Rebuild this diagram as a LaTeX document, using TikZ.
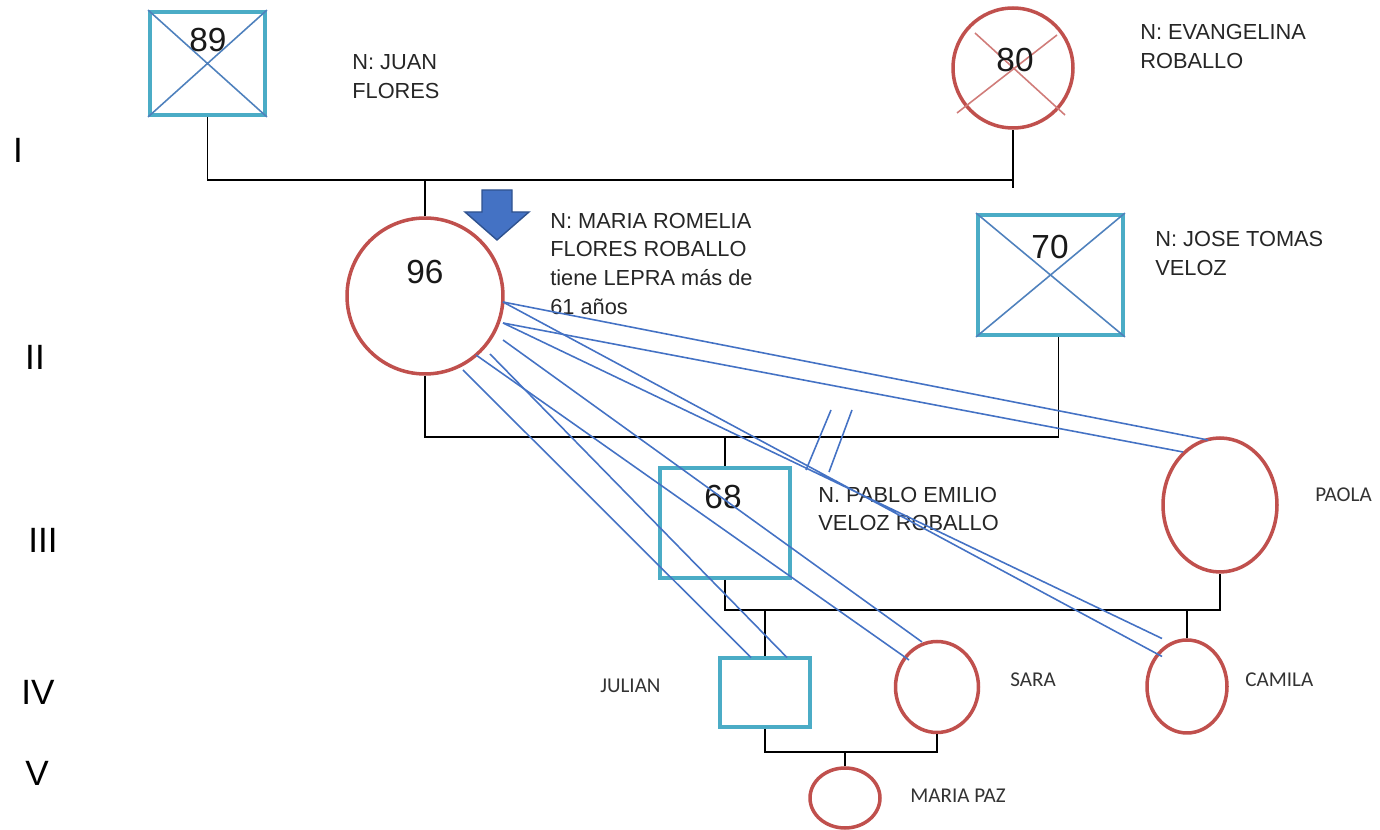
\documentclass[tikz,border=0pt]{standalone}
\usepackage{fontspec}
\setmainfont{Liberation Sans}
\newfontfamily\calfont{Carlito}
\usetikzlibrary{shapes.geometric,calc}
\definecolor{sqcyan}{RGB}{75,172,198}
\definecolor{fred}{RGB}{192,80,77}
\definecolor{xblue}{RGB}{79,129,189}
\definecolor{tieblue}{RGB}{68,114,196}
\definecolor{ptrline}{RGB}{47,82,143}
\tikzset{
  male/.style={draw=sqcyan,line width=2.2pt,inner sep=0pt},
  female/.style={draw=fred,line width=2pt,ellipse,inner sep=0pt},
  female dead/.style={draw=fred,line width=2pt,circle,inner sep=0pt},
  xmale/.style={draw=xblue,line width=0.9pt},
  xfemale/.style={draw=fred!75,line width=0.9pt},
  kin/.style={draw=black,line width=1.1pt},
  tie/.style={draw=tieblue,line width=0.9pt},
  pointer/.style={fill=tieblue,draw=ptrline,line width=0.8pt,line join=miter},
  age/.style={font=\fontsize{19}{19}\selectfont,text=black!90},
  who/.style={anchor=west,align=left,inner sep=0pt,text=black!85,
    font=\fontsize{12.4}{16.5}\selectfont},
  kid/.style={anchor=west,inner sep=0pt,text=black!80,
    font=\calfont\fontsize{12}{12}\selectfont},
  gen/.style={font=\fontsize{20}{20}\selectfont},
}

\begin{document}
\begin{tikzpicture}[x=0.02cm,y=-0.02cm]
  \useasboundingbox (0,0) rectangle (1380,830);

  % generations
  \node[gen] (g1) at (18,150) {I};
  \node[gen] (g2) at (35,357) {II};
  \node[gen] (g3) at (43,540) {III};
  \node[gen] (g4) at (38,692) {IV};
  \node[gen] (g5) at (37,773) {V};

  % persons
  \node[male,minimum width=2.3cm,minimum height=2.06cm] (juan) at (207.5,63.5) {};
  \node[female dead,minimum size=2.4cm] (evan) at (1013,68) {};
  \node[female dead,minimum size=3.12cm] (maria) at (425,296) {};
  \node[male,minimum width=2.9cm,minimum height=2.4cm] (jose) at (1050.5,275) {};
  \node[male,minimum width=2.6cm,minimum height=2.2cm] (pablo) at (725,523) {};
  \node[female,minimum width=2.28cm,minimum height=2.68cm] (paola) at (1220,505) {};
  \node[male,minimum width=1.8cm,minimum height=1.38cm] (julian) at (765,692.5) {};
  \node[female,minimum width=1.66cm,minimum height=1.82cm] (sara) at (937,687) {};
  \node[female,minimum width=1.6cm,minimum height=1.86cm] (camila) at (1187,686.5) {};
  \node[female,minimum width=1.4cm,minimum height=1.2cm] (paz) at (845,798) {};

  % deceased
  \draw[xmale] (juan.north west) -- (juan.south east) (juan.north east) -- (juan.south west);
  \draw[xmale] (jose.north west) -- (jose.south east) (jose.north east) -- (jose.south west);
  \draw[xfemale] ([shift={(-56,45)}]evan.center) -- ([shift={(44,-33)}]evan.center)
    ([shift={(-38,-35)}]evan.center) -- ([shift={(52,47)}]evan.center);

  % ages
  \node[age] (a89) at (208,40) {89};
  \node[age] (a80) at (1015,60) {80};
  \node[age] (a96) at (425,272) {96};
  \node[age] (a70) at (1050,247) {70};
  \node[age] (a68) at (723,497) {68};

  % names
  \node[who] (njuan) at (352,77) {N: JUAN\\FLORES};
  \node[who] (nevan) at (1140,47) {N: EVANGELINA\\ROBALLO};
  \node[who] (nmaria) at (550,264) {N: MARIA ROMELIA\\FLORES ROBALLO\\tiene LEPRA más de\\61 años};
  \node[who] (njose) at (1155,254) {N: JOSE TOMAS\\VELOZ};
  \node[who] (npablo) at (818,509) {N. PABLO EMILIO\\VELOZ ROBALLO};
  \node[kid] (npaola) at (1315,495) {PAOLA};
  \node[kid] (njulian) at (600,686) {JULIAN};
  \node[kid] (nsara) at (1010,680) {SARA};
  \node[kid] (ncamila) at (1245,680) {CAMILA};
  \node[kid] (npaz) at (910,796) {MARIA PAZ};

  % proband
  \filldraw[pointer] (482,190) -- (512,190) -- (512,212) -- (529,212) -- (497,240)
    -- (465,212) -- (482,212) -- cycle;

  % family lines
  \coordinate (u1) at (0,180);
  \coordinate (u2) at (0,437);
  \coordinate (u3) at (0,610);
  \coordinate (u4) at (0,752);
  \coordinate (jd) at ([shift={(8,0)}]jose.south);
  \draw[kin] (juan.south) |- (evan |- u1) -- (evan.south);
  \draw[kin] (evan |- u1) -- ++(0,8);
  \draw[kin] (maria.north) -- (maria |- u1);
  \draw[kin] (maria.south) |- (jd |- u2) -- (jd);
  \draw[kin] (pablo.north) -- (pablo |- u2);
  \draw[kin] (pablo.south) |- (paola |- u3) -- (paola.south);
  \draw[kin] (julian.north) -- (julian |- u3);
  \draw[kin] (camila.north) -- (camila |- u3);
  \draw[kin] (julian.south) |- (sara |- u4) -- (sara.south);
  \draw[kin] (paz.north) -- (paz |- u4);

  % contacts
  \draw[tie] ([shift={(78,6)}]maria.center) -- ([shift={(-12,-65)}]paola.center)
    ([shift={(78,27)}]maria.center) -- ([shift={(-37,-53)}]paola.center);
  \draw[tie] ([shift={(78,6)}]maria.center) -- ([shift={(-25,-30)}]camila.center)
    ([shift={(78,27)}]maria.center) -- ([shift={(-25,-48)}]camila.center);
  \draw[tie] ([shift={(78,44)}]maria.center) -- ([shift={(-15,-45)}]sara.center)
    ([shift={(51,59)}]maria.center) -- ([shift={(-28,-27)}]sara.center);
  \draw[tie] ([shift={(65,58)}]maria.center) -- ([shift={(22,-35)}]julian.center)
    ([shift={(38,74)}]maria.center) -- ([shift={(-14,-35)}]julian.center);
  \draw[tie] (831,410) -- (806,470) (852,410) -- (829,472);
\end{tikzpicture}
\end{document}
